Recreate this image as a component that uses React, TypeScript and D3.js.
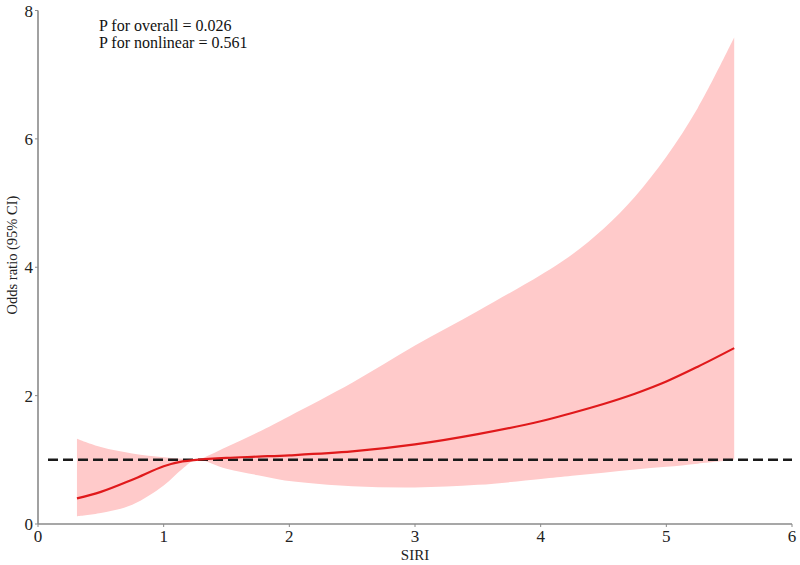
import { useEffect, useRef } from 'react';
import * as d3 from 'd3';

// Restricted cubic spline fit: SIRI vs odds ratio with 95% CI
const SIRI = [0.31, 0.5, 0.75, 1.0, 1.15, 1.26, 1.5, 1.75, 2.0, 2.5, 3.0, 3.5, 4.0, 4.25, 4.5, 4.75, 5.0, 5.25, 5.54];
const OR = [0.4, 0.5, 0.69, 0.9, 0.975, 1.0, 1.03, 1.05, 1.07, 1.13, 1.24, 1.4, 1.6, 1.73, 1.87, 2.03, 2.22, 2.45, 2.74];
const LOWER = [0.12, 0.17, 0.3, 0.6, 0.86, 1.0, 0.86, 0.76, 0.67, 0.59, 0.57, 0.61, 0.7, 0.75, 0.8, 0.85, 0.89, 0.94, 1.0];
const UPPER = [1.33, 1.2, 1.1, 1.04, 1.015, 1.0, 1.2, 1.43, 1.68, 2.2, 2.78, 3.32, 3.88, 4.2, 4.6, 5.1, 5.72, 6.48, 7.58];

const X_TICKS = [0, 1, 2, 3, 4, 5, 6];
const Y_TICKS = [0, 2, 4, 6, 8];
const REF_OR = 1;

const W = 800, H = 565;
const FONT = '"Liberation Serif", "Times New Roman", serif';

export default function App() {
  const ref = useRef<SVGSVGElement>(null);

  useEffect(() => {
    const svg = ref.current;
    if (!svg) return;
    d3.select(svg).selectAll('*').remove();
    const g = d3.select(svg).attr('viewBox', `0 0 ${W} ${H}`).append('g');

    const x = d3.scaleLinear().domain([0, 6]).range([38, 792]);
    const y = d3.scaleLinear().domain([0, 8]).range([524, 10.5]);

    const rows = SIRI.map((s, i) => ({ s, or: OR[i], lo: LOWER[i], hi: UPPER[i] }));

    // CI band
    const area = d3.area<(typeof rows)[0]>()
      .x((d) => x(d.s))
      .y0((d) => y(d.lo))
      .y1((d) => y(d.hi))
      .curve(d3.curveCatmullRom);
    g.append('path').datum(rows).attr('d', area).attr('fill', '#ffcaca');

    // Reference line at OR = 1
    g.append('line')
      .attr('x1', x(0) + 10).attr('x2', x(6))
      .attr('y1', y(REF_OR)).attr('y2', y(REF_OR))
      .attr('stroke', '#1a1a1a').attr('stroke-width', 2.5)
      .attr('stroke-dasharray', '10,5');

    // Estimate line
    const line = d3.line<(typeof rows)[0]>()
      .x((d) => x(d.s))
      .y((d) => y(d.or))
      .curve(d3.curveCatmullRom);
    g.append('path').datum(rows).attr('d', line)
      .attr('fill', 'none').attr('stroke', '#e0191b').attr('stroke-width', 2.2);

    // Axes
    const axisColor = '#8a8a8a';
    g.append('line').attr('x1', x(0)).attr('x2', x(6)).attr('y1', y(0)).attr('y2', y(0))
      .attr('stroke', axisColor).attr('stroke-width', 1.6);
    g.append('line').attr('x1', x(0)).attr('x2', x(0)).attr('y1', y(0)).attr('y2', y(8))
      .attr('stroke', axisColor).attr('stroke-width', 1.6);

    X_TICKS.forEach((v) => {
      g.append('line').attr('x1', x(v)).attr('x2', x(v)).attr('y1', y(0)).attr('y2', y(0) + 3)
        .attr('stroke', axisColor).attr('stroke-width', 1);
      g.append('text').attr('x', x(v)).attr('y', y(0) + 18)
        .attr('text-anchor', 'middle').attr('font-family', FONT).attr('font-size', 17)
        .attr('fill', '#222').text(v);
    });
    Y_TICKS.forEach((v) => {
      g.append('line').attr('x1', x(0) - 3).attr('x2', x(0)).attr('y1', y(v)).attr('y2', y(v))
        .attr('stroke', axisColor).attr('stroke-width', 1);
      g.append('text').attr('x', x(0) - 5).attr('y', y(v) + 6)
        .attr('text-anchor', 'end').attr('font-family', FONT).attr('font-size', 17)
        .attr('fill', '#222').text(v);
    });

    // Axis titles
    g.append('text').attr('x', x(3)).attr('y', 560)
      .attr('text-anchor', 'middle').attr('font-family', FONT).attr('font-size', 15)
      .attr('fill', '#222').text('SIRI');
    g.append('text').attr('transform', `translate(17,255) rotate(-90)`)
      .attr('text-anchor', 'middle').attr('font-family', FONT).attr('font-size', 14.5)
      .attr('fill', '#222').text('Odds ratio (95% CI)');

    // P-values
    g.append('text').attr('x', 99).attr('y', 31).attr('font-family', FONT).attr('font-size', 16)
      .attr('fill', '#111').text('P for overall = 0.026');
    g.append('text').attr('x', 99).attr('y', 48).attr('font-family', FONT).attr('font-size', 16)
      .attr('fill', '#111').text('P for nonlinear = 0.561');
  }, []);

  return (
    <div style={{ position: 'absolute', left: 0, top: 0, background: '#fff' }}>
      <svg ref={ref} width={W} height={H} style={{ display: 'block' }} />
    </div>
  );
}
